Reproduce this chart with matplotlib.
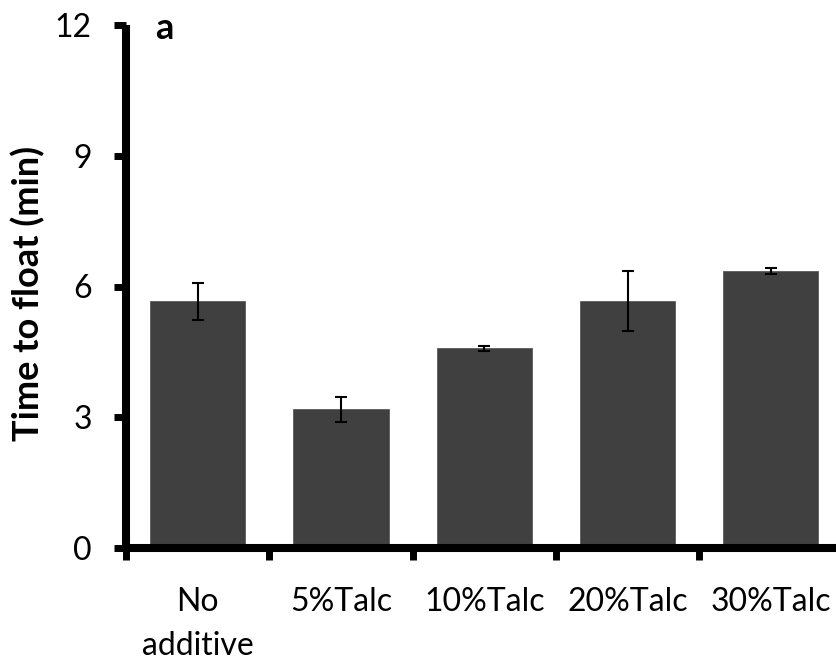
import matplotlib
matplotlib.use("Agg")
import matplotlib.pyplot as plt

# Datos
categories = ['No\nadditive', '5%Talc', '10%Talc', '20%Talc', '30%Talc']
time_to_float = [5.66, 3.18, 4.58, 5.66, 6.35]
errors = [0.42, 0.29, 0.05, 0.69, 0.07]
y_ticks = [0, 3, 6, 9, 12]

plt.rcParams['font.family'] = ['Lato', 'DejaVu Sans']

W, H = 837, 661
fig = plt.figure(figsize=(W / 100, H / 100), dpi=100)
# ejes en pixeles: x desde 126 hasta 842.5 (se sale de la figura), y de 548 a 25
ax = fig.add_axes([126 / W, (H - 548) / H, 716.5 / W, 523 / H])

x = list(range(len(categories)))
ax.bar(x, time_to_float, width=0.665, color='#404040', edgecolor='#5a5a5a',
       linewidth=0.6, zorder=2)
ax.errorbar(x, time_to_float, yerr=errors, fmt='none', ecolor='black',
            elinewidth=1.5, capsize=4.3, capthick=1.5, zorder=3)

ax.set_xlim(-0.5, 4.5)
ax.set_ylim(0, 12)
ax.set_yticks(y_ticks)
ax.set_yticklabels([str(t) for t in y_ticks])

# marcas en los limites de categoria, etiquetas en el centro
ax.set_xticks([i - 0.5 for i in range(len(categories) + 1)])
ax.set_xticklabels([])
ax.set_xticks(x, minor=True)
ax.set_xticklabels(categories, minor=True, linespacing=1.6)

for s in ['top', 'right']:
    ax.spines[s].set_visible(False)
for s in ['left', 'bottom']:
    ax.spines[s].set_linewidth(5.8)
    ax.spines[s].set_capstyle('butt')

ax.tick_params(axis='y', which='major', length=8.6, width=5, direction='out',
               labelsize=23, pad=16)
ax.tick_params(axis='x', which='major', length=8.6, width=5, direction='out')
ax.tick_params(axis='x', which='minor', length=0, labelsize=23, pad=28)

fig.text(28 / W, 1 - 293 / H, 'Time to float (min)', rotation=90,
         ha='center', va='center', fontsize=26, fontweight='bold')
fig.text(155 / W, 1 - 39 / H, 'a', ha='left', va='baseline',
         fontsize=26, fontweight='bold')

fig.savefig('out.png', dpi=100)
